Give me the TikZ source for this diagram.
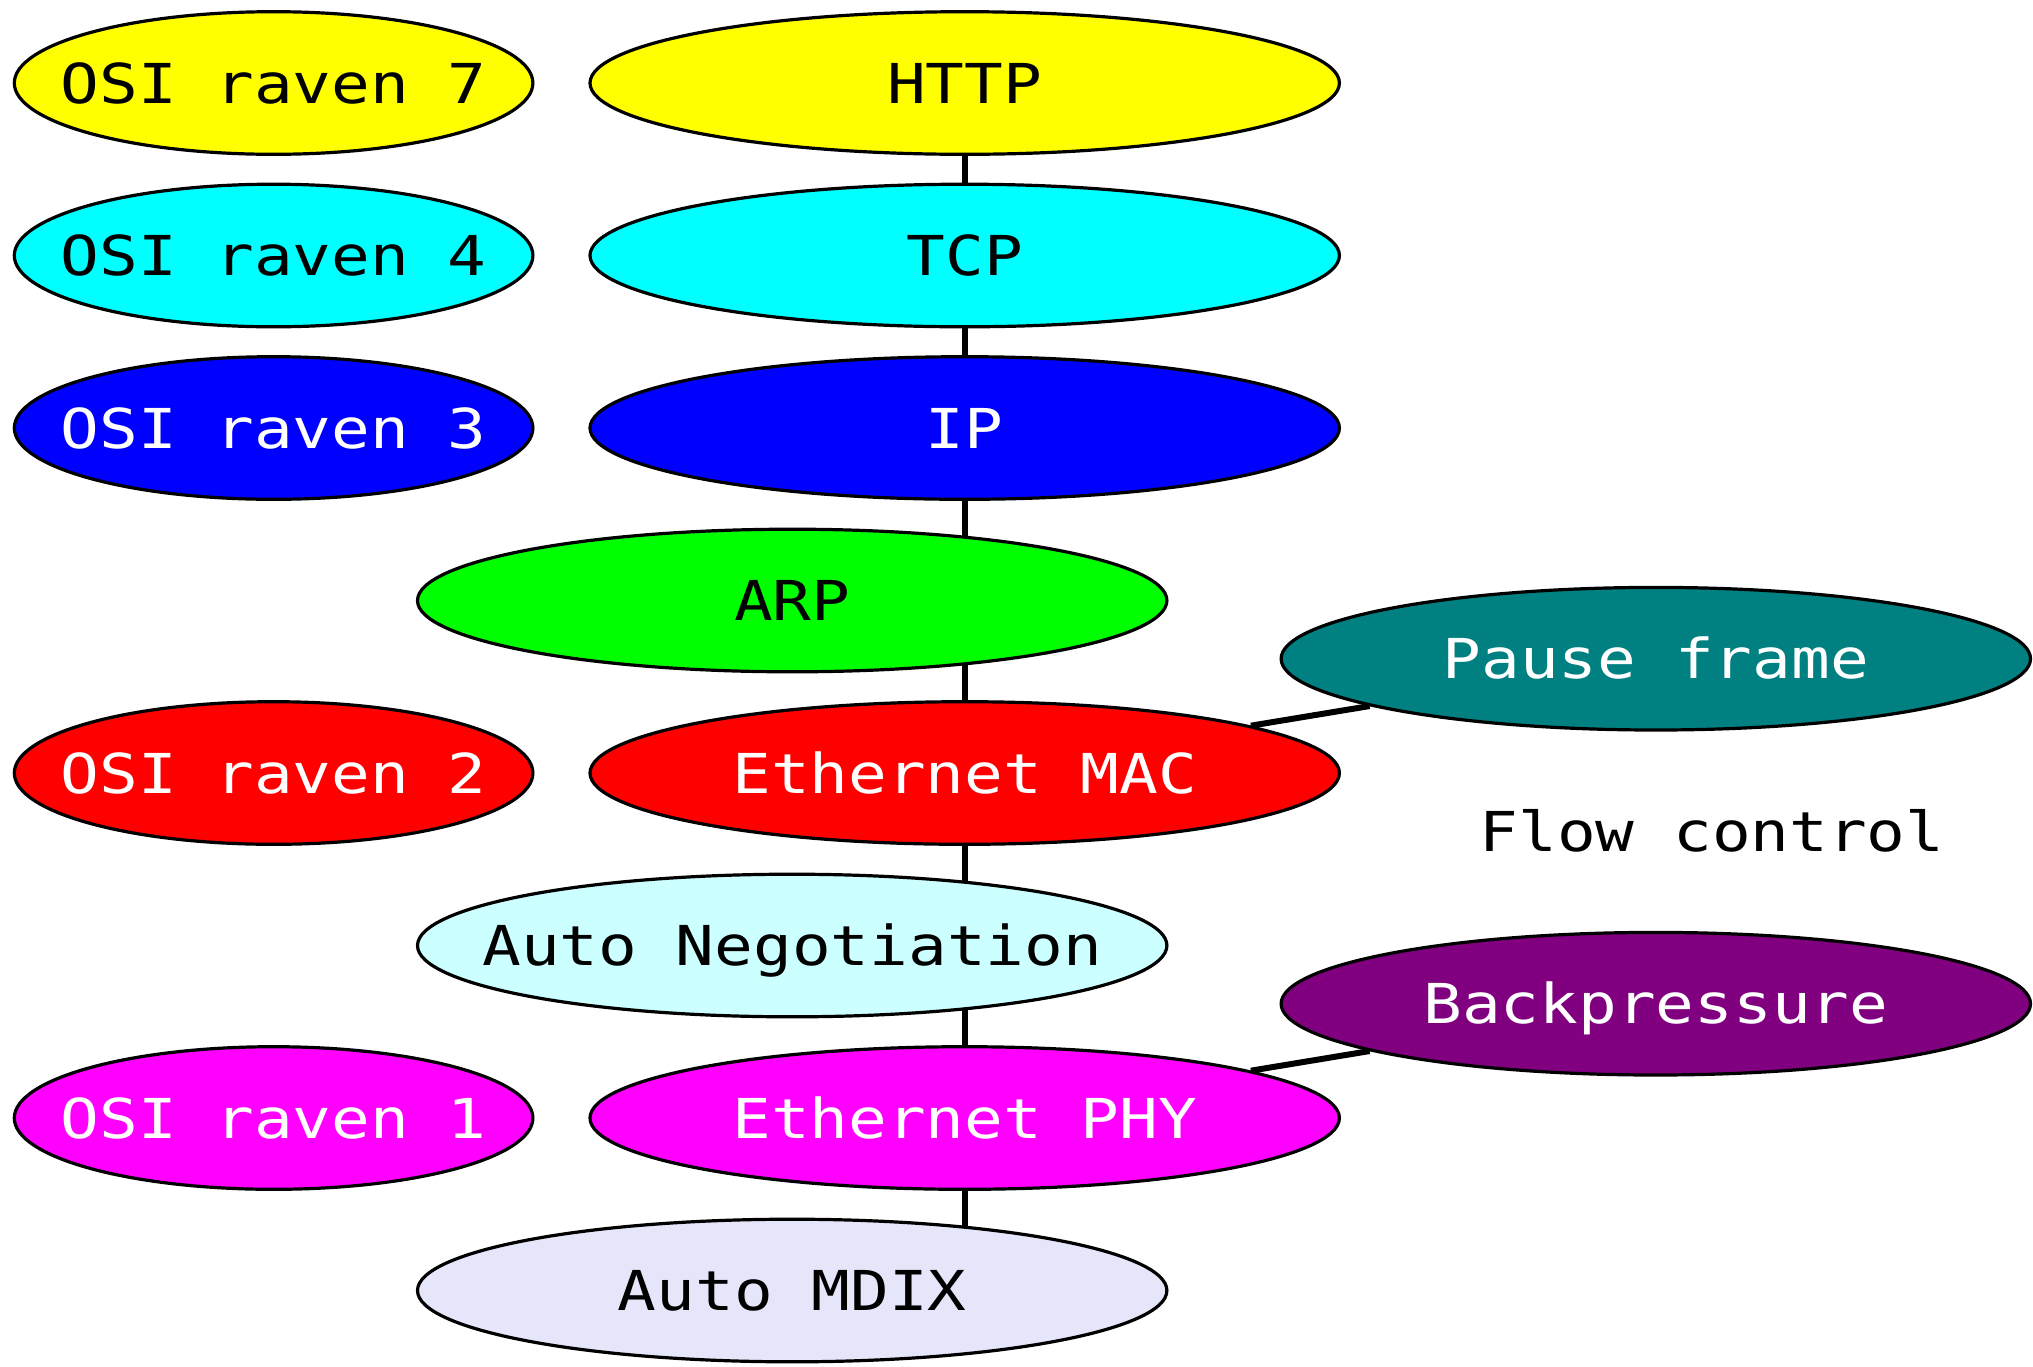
\documentclass[tikz,border=0pt]{standalone}
\usepackage{fontspec}
\usepackage{tikz}
\usetikzlibrary{shapes.geometric}
\newfontfamily\monofont[FakeStretch=1.17]{DejaVu Sans Mono}
\definecolor{httpyellow}{HTML}{FFFF00}
\definecolor{tcpcyan}{HTML}{00FFFF}
\definecolor{ipblue}{HTML}{0000FF}
\definecolor{arpgreen}{HTML}{00FF00}
\definecolor{macred}{HTML}{FF0000}
\definecolor{phymagenta}{HTML}{FF00FF}
\definecolor{negcyan}{HTML}{CCFFFF}
\definecolor{mdixlav}{HTML}{E6E6FA}
\definecolor{pteal}{HTML}{008080}
\definecolor{bpurple}{HTML}{800080}
\pgfdeclarelayer{bg}
\pgfsetlayers{bg,main}
\newcommand{\lbl}[1]{\makebox[0pt]{#1}}

\begin{document}
\begin{tikzpicture}[x=0.5pt,y=-0.5pt,
    layer/.style={ellipse,draw,line width=1.6pt,inner sep=0pt,minimum height=71.3pt,
      text height=20pt,text depth=0pt,font=\monofont\fontsize{27.5pt}{30pt}\selectfont},
    osi/.style={layer,minimum width=259.3pt},
    proto/.style={layer,minimum width=374.7pt},
    link/.style={line width=3pt}]
   \useasboundingbox (0,0) rectangle (2033,1366);

   % OSI raven
   \node[osi, fill=httpyellow]                (osiseven) at (273.6,  83.0) {\lbl{OSI raven 7}};
   \node[osi, fill=tcpcyan]                   (osifour)  at (273.6, 255.5) {\lbl{OSI raven 4}};
   \node[osi, fill=ipblue, text=white]        (osithree) at (273.6, 428.0) {\lbl{OSI raven 3}};
   \node[osi, fill=macred, text=white]        (ositwo)   at (273.6, 773.0) {\lbl{OSI raven 2}};
   \node[osi, fill=phymagenta, text=white]    (osione)   at (273.6,1118.0) {\lbl{OSI raven 1}};

   % protokoli
   \node[proto, fill=httpyellow]              (http)     at (964.7,  83.0) {\lbl{HTTP}};
   \node[proto, fill=tcpcyan]                 (tcp)      at (964.7, 255.5) {\lbl{TCP}};
   \node[proto, fill=ipblue, text=white]      (ip)       at (964.7, 428.0) {\lbl{IP}};
   \node[proto, fill=arpgreen]                (arp)      at (792.2, 600.5) {\lbl{ARP}};
   \node[proto, fill=macred, text=white]      (mac)      at (964.7, 773.0) {\lbl{Ethernet MAC}};
   \node[proto, fill=negcyan]                 (autoneg)  at (792.2, 945.5) {\lbl{Auto Negotiation}};
   \node[proto, fill=phymagenta, text=white]  (phy)      at (964.7,1118.0) {\lbl{Ethernet PHY}};
   \node[proto, fill=mdixlav]                 (mdix)     at (792.2,1290.5) {\lbl{Auto MDIX}};

   % flow control
   \node[proto, fill=pteal, text=white]       (pause)    at (1655.8, 658.7) {\lbl{Pause frame}};
   \node[proto, fill=bpurple, text=white]     (backpres) at (1655.8,1003.7) {\lbl{Backpressure}};
   \node[font=\monofont\fontsize{27.5pt}{30pt}\selectfont, text height=20pt, text depth=0pt, inner sep=0pt]
        (flowctl) at (1712.0, 831.2) {Flow control};

   \begin{pgfonlayer}{bg}
   \fill[white] (0,0) rectangle (2033,1366);
   \draw[link] (http) -- (tcp);
   \draw[link] (tcp) -- (ip);
   \draw[link] (ip) -- (ip |- arp);
   \draw[link] (mac |- arp) -- (mac);
   \draw[link] (mac) -- (mac |- autoneg);
   \draw[link] (phy |- autoneg) -- (phy);
   \draw[link] (phy) -- (phy |- mdix);
   \draw[link] (mac) -- (pause);
   \draw[link] (phy) -- (backpres);
   \end{pgfonlayer}
\end{tikzpicture}
\end{document}
